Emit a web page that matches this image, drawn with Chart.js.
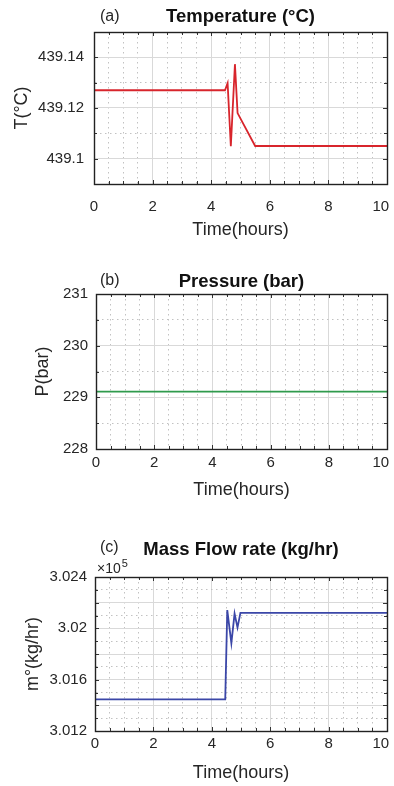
<!DOCTYPE html>
<html>
<head>
<meta charset="utf-8">
<title>Temperature, pressure and mass flow</title>
<script src="https://cdn.jsdelivr.net/npm/chart.js@4.4.0/dist/chart.umd.min.js"></script>
<style>
    body { margin: 0; background: #fff; width: 394px; height: 786px; position: relative; overflow: hidden; }
    .panel { position: absolute; left: 0; width: 394px; }
    canvas { display: block; }
</style>
</head>
<body>
<div class="panel" style="top:0"><canvas id="tempChart" width="394" height="244"></canvas></div>
<div class="panel" style="top:250px"><canvas id="pressChart" width="394" height="259"></canvas></div>
<div class="panel" style="top:515px"><canvas id="flowChart" width="394" height="271"></canvas></div>
<script>
// (a) temperature, °C
const tempTime = [0, 4.47, 4.56, 4.67, 4.81, 4.9, 5.5, 10];
const tempValues = [439.127, 439.127, 439.1298, 439.1049, 439.1373, 439.118, 439.105, 439.105];

// (b) pressure, bar
const pressTime = [0, 10];
const pressValues = [229.11, 229.11];

// (c) mass flow, kg/hr
const flowTime = [0, 4.46, 4.53, 4.67, 4.78, 4.88, 4.98, 10];
const flowValues = [301446, 301446, 302142, 301885, 302115, 302006, 302120, 302120];

// last label padded so it stays inside the canvas
const xTickLabels = ['0', '2', '4', '6', '8', '10   '];

const FONT = '"Liberation Sans", Arial, sans-serif';
Chart.defaults.font.family = FONT;
Chart.defaults.color = '#262626';

const GRID_MAJOR = '#d9d9d9';
const GRID_MINOR = '#c2c2c2';

// draws the black box, inward tick marks, panel title, tag and exponent
const framePlugin = {
    id: 'frame',
    afterDraw(chart, args, opts) {
        const { ctx, chartArea: a } = chart;
        const xs = chart.scales.x;
        const ys = chart.scales.y;
        ctx.save();
        ctx.strokeStyle = '#333';
        ctx.lineWidth = 1;
        ctx.beginPath();
        xs.ticks.forEach(t => {
            const px = Math.round(xs.getPixelForValue(t.value)) + 0.5;
            const len = opts.xMajor(t.value) ? 4 : 3;
            ctx.moveTo(px, a.bottom); ctx.lineTo(px, a.bottom - len);
            ctx.moveTo(px, a.top); ctx.lineTo(px, a.top + len);
        });
        ys.ticks.forEach(t => {
            const py = Math.round(ys.getPixelForValue(t.value)) + 0.5;
            const len = opts.yMajor(t.value) ? 4 : 3;
            ctx.moveTo(a.left, py); ctx.lineTo(a.left + len, py);
            ctx.moveTo(a.right, py); ctx.lineTo(a.right - len, py);
        });
        ctx.stroke();
        ctx.lineWidth = 1.4;
        ctx.strokeStyle = '#222';
        ctx.strokeRect(Math.round(a.left) + 0.5, Math.round(a.top) + 0.5,
            Math.round(a.width), Math.round(a.height));

        ctx.fillStyle = '#111';
        ctx.textBaseline = 'middle';
        ctx.textAlign = 'center';
        ctx.font = 'bold 18.5px ' + FONT;
        ctx.fillText(opts.title, (a.left + a.right) / 2, opts.titleY);
        ctx.textAlign = 'left';
        ctx.font = '16px ' + FONT;
        ctx.fillStyle = '#262626';
        ctx.fillText(opts.tag, opts.tagX, opts.tagY);

        if (opts.exponent) {
            ctx.textBaseline = 'alphabetic';
            ctx.font = '14px ' + FONT;
            ctx.fillText('×10', opts.exponent.x, opts.exponent.y);
            const w = ctx.measureText('×10').width;
            ctx.font = '11px ' + FONT;
            ctx.fillText('5', opts.exponent.x + w + 1, opts.exponent.y - 6);
        }
        ctx.restore();
    }
};

const xMajor = v => Math.round(v * 2) % 4 === 0;

function makeChart(id, cfg) {
    const points = cfg.time.map((t, i) => ({ x: t, y: cfg.values[i] }));
    return new Chart(document.getElementById(id), {
        type: 'line',
        data: {
            datasets: [{
                data: points,
                borderColor: cfg.color,
                borderWidth: 1.8,
                pointRadius: 0,
                tension: 0,
                fill: false
            }]
        },
        plugins: [framePlugin],
        options: {
            responsive: false,
            animation: false,
            layout: { padding: { top: cfg.padTop, right: 7, bottom: 0, left: 0 } },
            plugins: {
                legend: { display: false },
                tooltip: { enabled: false },
                frame: {
                    title: cfg.title,
                    titleY: cfg.titleY,
                    tag: cfg.tag,
                    tagX: 100,
                    tagY: cfg.tagY,
                    exponent: cfg.exponent,
                    xMajor: xMajor,
                    yMajor: cfg.yMajor
                }
            },
            scales: {
                x: {
                    type: 'linear',
                    min: 0,
                    max: 10,
                    afterFit(scale) {
                        scale.height = cfg.xHeight;
                        // keep the plot edges fixed; labels may hang over
                        scale.paddingLeft = 0;
                        scale.paddingRight = 0;
                    },
                    ticks: {
                        stepSize: 0.5,
                        autoSkip: false,
                        maxRotation: 0,
                        padding: cfg.xTickPad,
                        font: { size: 15 },
                        callback: v => xMajor(v) ? xTickLabels[Math.round(v / 2)] : ''
                    },
                    grid: {
                        drawTicks: false,
                        color: c => (c.tick && xMajor(c.tick.value)) ? GRID_MAJOR : GRID_MINOR
                    },
                    border: {
                        color: '#222',
                        dash: c => (c.tick && !xMajor(c.tick.value)) ? [1.5, 3.5] : []
                    },
                    title: {
                        display: true,
                        text: 'Time(hours)',
                        font: { size: 18 },
                        padding: { top: 0, bottom: cfg.xTitlePad }
                    }
                },
                y: {
                    min: cfg.yMin,
                    max: cfg.yMax,
                    afterFit(scale) { scale.width = cfg.yWidth; },
                    ticks: {
                        stepSize: cfg.yStep,
                        autoSkip: false,
                        padding: cfg.yTickPad,
                        font: { size: 15 },
                        callback: cfg.yLabel
                    },
                    grid: {
                        drawTicks: false,
                        color: c => (c.tick && cfg.yMajor(c.tick.value)) ? GRID_MAJOR : GRID_MINOR
                    },
                    border: {
                        color: '#222',
                        dash: c => (c.tick && !cfg.yMajor(c.tick.value)) ? [1.5, 3.5] : []
                    },
                    title: {
                        display: true,
                        text: cfg.yTitle,
                        font: { size: 18 },
                        padding: { top: cfg.yTitlePad, bottom: 0 }
                    }
                }
            }
        }
    });
}

document.addEventListener('DOMContentLoaded', function () {
    makeChart('tempChart', {
        time: tempTime,
        values: tempValues,
        color: '#d8252c',
        title: 'Temperature (°C)',
        titleY: 17,
        tag: '(a)',
        tagY: 17,
        padTop: 32,
        xHeight: 60,
        xTickPad: 14,
        xTitlePad: 3,
        yWidth: 94,
        yTickPad: 10,
        yTitlePad: 11,
        yTitle: 'T(°C)',
        yMin: 439.09,
        yMax: 439.15,
        yStep: 0.01,
        yMajor: v => Math.round(v * 100) % 2 === 0,
        yLabel: v => Math.round(v * 100) % 2 === 0 ? String(+v.toFixed(2)) : ''
    });

    makeChart('pressChart', {
        time: pressTime,
        values: pressValues,
        color: '#2f9a4c',
        title: 'Pressure (bar)',
        titleY: 31.7,
        tag: '(b)',
        tagY: 31,
        padTop: 44,
        xHeight: 60,
        xTickPad: 5,
        xTitlePad: 8,
        yWidth: 96,
        yTickPad: 8,
        yTitlePad: 32,
        yTitle: 'P(bar)',
        yMin: 228,
        yMax: 231,
        yStep: 0.5,
        yMajor: v => Math.round(v * 2) % 2 === 0,
        yLabel: v => Math.round(v * 2) % 2 === 0 ? String(Math.round(v)) : ''
    });

    makeChart('flowChart', {
        time: flowTime,
        values: flowValues,
        color: '#3b47a8',
        title: 'Mass Flow rate (kg/hr)',
        titleY: 35,
        tag: '(c)',
        tagY: 33,
        exponent: { x: 97, y: 58 },
        padTop: 62,
        xHeight: 55,
        xTickPad: 4,
        xTitlePad: 2,
        yWidth: 95,
        yTickPad: 8,
        yTitlePad: 22,
        yTitle: 'm°(kg/hr)',
        yMin: 301200,
        yMax: 302400,
        yStep: 100,
        yMajor: v => Math.round(v / 100) % 2 === 0,
        yLabel: v => Math.round(v / 100) % 4 === 0 ? String(+(v / 1e5).toFixed(3)) : ''
    });
});
</script>
</body>
</html>
